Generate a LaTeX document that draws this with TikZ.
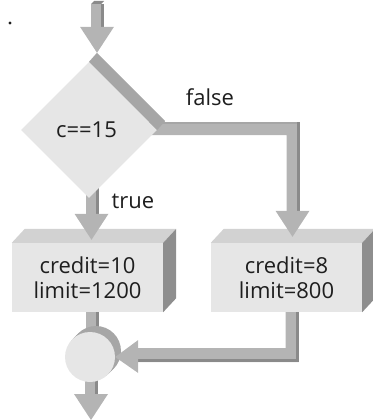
\documentclass[tikz,border=0pt]{standalone}
\usepackage{fontspec}
\setmainfont{Open Sans}
\usetikzlibrary{shapes.geometric,calc}
\definecolor{face}{HTML}{E6E6E6}
\definecolor{topface}{HTML}{D2D2D2}
\definecolor{sideface}{HTML}{8E8E8E}
\definecolor{arrowg}{HTML}{B4B4B4}
\definecolor{arrowd}{HTML}{8A8A8A}
\definecolor{band}{HTML}{A6A6A6}
\definecolor{ink}{HTML}{1E1E1E}
\pgfdeclarelayer{bg}\pgfsetlayers{bg,main}
\newcommand\vshaft[2]{%
  \fill[arrowg] ($(#1 -| #2)+(-6,0)$) rectangle ($(#2)+(4,-26)$);
  \fill[arrowd] ($(#1 -| #2)+(4,0)$) rectangle ($(#2)+(7,-26)$);}
\newcommand\vhead[1]{\fill[arrowg] (#1) -- ++(-17,-26) -- ++(34,0) -- cycle;}
\begin{document}
\begin{tikzpicture}[x=1pt,y=-1pt,
  txt/.style={font=\fontsize{22}{25}\selectfont, text=ink},
  decision/.style={diamond, fill=face, minimum width=136pt, minimum height=136pt, inner sep=0pt, shape aspect=1, txt},
  procbox/.style={rectangle, fill=face, minimum width=151pt, minimum height=69pt, inner sep=0pt, align=center, txt},
  joinc/.style={circle, fill=face, minimum size=50pt, inner sep=0pt}]
\path[use as bounding box] (0,0) rectangle (372,420);
\fill[ink] (10,23) circle (1.6);

% nodes
\node[decision] (d) at (89,130) {\raisebox{-4pt}{\hspace*{-5pt}c==15}};
\fill[band] (d.north) -- (d.east) -- ++(8,-9) -- ($(d.north)+(8,-9)$) -- cycle;

\node[procbox] (lb) at (87.5,277.5) {credit=10\\limit=1200};
\node[procbox] (rb) at (286.5,277.5) {credit=8\\limit=800};
\foreach \b in {lb,rb}{
  \fill[topface] (\b.north west) -- ++(13,-14) -- ($(\b.north east)+(13,-14)$) -- (\b.north east) -- cycle;
  \fill[sideface] (\b.north east) -- ++(13,-14) -- ($(\b.south east)+(13,-14)$) -- (\b.south east) -- cycle;
}

\coordinate (cc) at (90,357);
\foreach \o in {2,4,6}{\fill[band] ($(cc)+(\o,-\o)$) circle (25);}
\node[joinc] (c) at (cc) {};

\coordinate (in) at (98,4);
\coordinate (out) at (91,420);
\coordinate (t1) at ($(d.north)+(8,-9)$);
\coordinate (t2) at ($(lb.north)+(4,-3)$);
\coordinate (t3) at ($(rb.north)+(6,-6)$);

% background shafts
\begin{pgfonlayer}{bg}
  \vshaft{d.center}{t2}
  \fill[arrowg] ($(d.center)+(0,-8)$) -- ($(d.center -| t3)+(7,-8)$) -- ($(t3)+(7,-26)$)
     -- ($(t3)+(-6,-26)$) -- ($(d.center -| t3)+(-6,5)$) -- ($(d.center)+(0,5)$) -- cycle;
  \fill[band] ($(d.center)+(0,-8)$) rectangle ($(d.center -| t3)+(4,-6)$);
  \fill[arrowd] ($(d.center -| t3)+(4,-8)$) rectangle ($(t3)+(7,-26)$);
  \fill[arrowg] ($(lb.south)+(-2,0)$) rectangle ($(c.center -| lb.south)+(8,0)$);
  \fill[arrowd] ($(lb.south)+(8,0)$) rectangle ($(c.center -| lb.south)+(11,0)$);
  \vshaft{c.center}{out}
\end{pgfonlayer}

% top incoming arrow
\vshaft{in}{t1}
\fill[arrowd] ($(in -| t1)+(-6,0)$) -- ++(3,-3) -- ++(10,0) -- ++(-3,3) -- cycle;
\vhead{t1}

% true / false heads
\vhead{t2}
\vhead{t3}
\vhead{out}

% return from right box to join
\fill[arrowg] ($(rb.south)+(-1,0)$) -- ($(rb.south)+(12,0)$) -- ($(rb.south |- c.center)+(12,5)$)
   -- ($(c.east)+(23,5)$) -- ($(c.east)+(23,-9)$) -- ($(rb.south |- c.center)+(-1,-9)$) -- cycle;
\fill[arrowd] ($(rb.south)+(9,0)$) rectangle ($(rb.south |- c.center)+(12,5)$);
\fill[arrowd] ($(c.east)+(23,2)$) rectangle ($(rb.south |- c.center)+(12,5)$);
\fill[arrowg] (c.east) -- ++(23,-17) -- ++(0,33) -- cycle;

% labels
\node[txt] (lf) at (210,97) {false};
\node[txt] (lt) at (133,201) {true};
\end{tikzpicture}
\end{document}
